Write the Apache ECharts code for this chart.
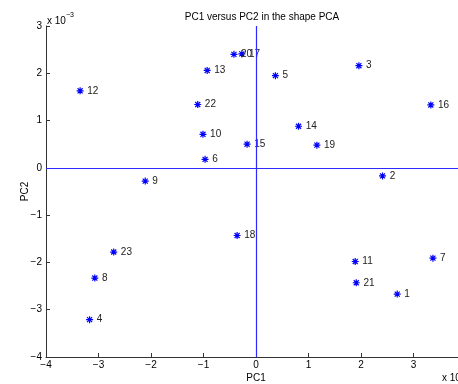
<!DOCTYPE html>
<html>
<head>
<meta charset="utf-8">
<script src="https://cdn.jsdelivr.net/npm/echarts@6/dist/echarts.min.js"></script>
<style>html,body{margin:0;padding:0;background:#fff}#c{width:458px;height:384px}</style>
</head>
<body>
<div id="c"></div>
<script>
// values in units of 1e-3
var ids = ['1','2','3','4','5','6','7','8','9','10','11','12','13','14','15','16','17','18','19','20','21','22','23'];
var pc1 = [2.69, 2.41, 1.96, -3.17, 0.37, -0.97, 3.37, -3.07, -2.11, -1.01, 1.89, -3.35, -0.93, 0.81, -0.17, 3.33, -0.27, -0.36, 1.16, -0.42, 1.91, -1.11, -2.71];
var pc2 = [-2.67, -0.17, 2.16, -3.21, 1.95, 0.18, -1.91, -2.33, -0.28, 0.71, -1.98, 1.63, 2.06, 0.88, 0.50, 1.33, 2.41, -1.43, 0.48, 2.40, -2.43, 1.34, -1.78];
var xTicks = [-4, -3, -2, -1, 0, 1, 2, 3, 4];
var yTicks = [-4, -3, -2, -1, 0, 1, 2, 3];

var data = ids.map(function (id, i) { return [pc1[i], pc2[i], id]; });
var font = '"Liberation Sans", Arial, Helvetica, sans-serif';
var star = 'path://M-1,0L1,0M0,-1L0,1M-0.72,-0.72L0.72,0.72M-0.72,0.72L0.72,-0.72';
function fmt(v) { return v < 0 ? '\u2212' + (-v) : String(v); }

var chart = echarts.init(document.getElementById('c'), null, {renderer: 'canvas'});
chart.setOption({
  animation: false,
  backgroundColor: '#ffffff',
  textStyle: {fontFamily: font},
  title: {
    text: 'PC1 versus PC2 in the shape PCA',
    left: 257, top: 7, textAlign: 'center',
    textStyle: {fontSize: 10, fontWeight: 'normal', color: '#000', fontFamily: font}
  },
  grid: {left: 46, top: 26, width: 420, height: 331, containLabel: false, outerBoundsMode: 'none'},
  xAxis: {
    type: 'value', min: xTicks[0], max: xTicks[xTicks.length - 1], interval: 1,
    name: 'PC1', nameLocation: 'middle', nameGap: 16, nameMoveOverlap: false,
    nameTextStyle: {fontSize: 10, color: '#000', fontFamily: font},
    axisLine: {onZero: false, lineStyle: {color: '#333', width: 1}},
    axisTick: {inside: true, length: 4, lineStyle: {color: '#333'}},
    axisLabel: {fontSize: 10, color: '#000', margin: 3, fontFamily: font, formatter: fmt},
    splitLine: {show: false}
  },
  yAxis: {
    type: 'value', min: yTicks[0], max: yTicks[yTicks.length - 1], interval: 1,
    name: 'PC2', nameLocation: 'middle', nameGap: 16, nameMoveOverlap: false,
    nameTextStyle: {fontSize: 10, color: '#000', fontFamily: font},
    axisLine: {onZero: false, lineStyle: {color: '#333', width: 1}},
    axisTick: {inside: true, length: 4, lineStyle: {color: '#333'}},
    axisLabel: {fontSize: 10, color: '#000', margin: 4, fontFamily: font, formatter: fmt},
    splitLine: {show: false}
  },
  series: [{
    type: 'scatter',
    data: data,
    symbol: star,
    symbolSize: 7,
    itemStyle: {color: '#0000ff', borderColor: '#0000ff', borderWidth: 1.2, opacity: 1},
    label: {
      show: true, position: 'right', distance: 3,
      formatter: function (p) { return p.data[2]; },
      fontSize: 10, color: '#222', fontFamily: font
    },
    markLine: {
      silent: true, symbol: 'none', animation: false,
      label: {show: false},
      lineStyle: {color: '#2b2bff', width: 1.2, type: 'solid'},
      data: [{xAxis: 0}, {yAxis: 0}]
    },
    z: 3
  }],
  graphic: [
    {type: 'text', left: 47, top: 12, style: {
      text: '{a|x 10}{b|\u22123}', fontFamily: font,
      rich: {a: {fontSize: 10, fill: '#000', fontFamily: font, verticalAlign: 'bottom'},
             b: {fontSize: 7, fill: '#000', fontFamily: font, verticalAlign: 'top', padding: [0, 0, 7, 0]}}
    }},
    {type: 'text', left: 442, top: 371, style: {
      text: '{a|x 10}{b|\u22123}', fontFamily: font,
      rich: {a: {fontSize: 10, fill: '#000', fontFamily: font},
             b: {fontSize: 7, fill: '#000', fontFamily: font, padding: [0, 0, 7, 0]}}
    }}
  ]
});
</script>
</body>
</html>
